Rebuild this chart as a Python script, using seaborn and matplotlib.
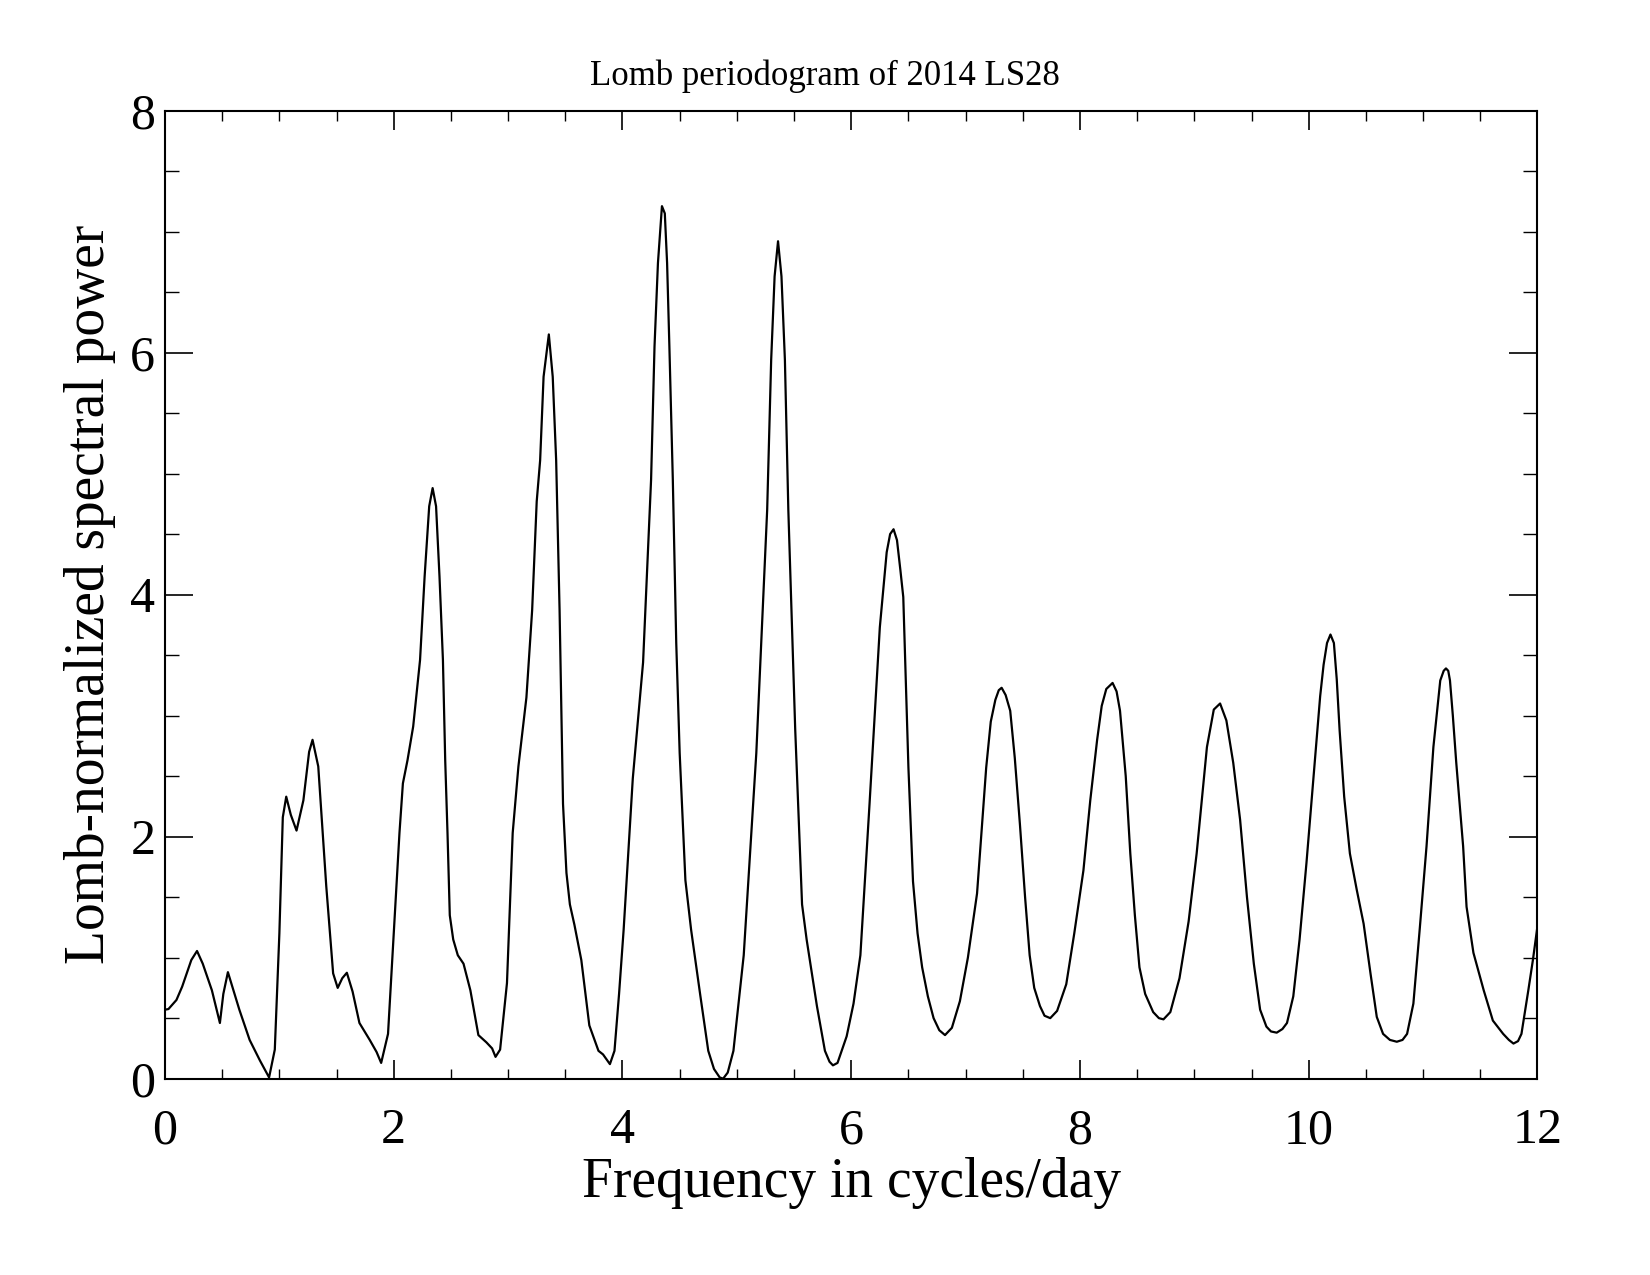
import seaborn as sns
import pandas as pd
import matplotlib.pyplot as plt
from matplotlib.ticker import MultipleLocator

# values
frequency = [
    0.00, 0.03, 0.10, 0.15, 0.19, 0.23, 0.28, 0.33, 0.41, 0.48,
    0.51, 0.55, 0.65, 0.74, 0.83, 0.91, 0.96, 1.00, 1.03, 1.06,
    1.10, 1.15, 1.21, 1.26, 1.29, 1.34, 1.41, 1.47, 1.51, 1.55,
    1.59, 1.64, 1.70, 1.79, 1.85, 1.89, 1.95, 2.00, 2.05, 2.08,
    2.12, 2.17, 2.23, 2.27, 2.31, 2.34, 2.37, 2.40, 2.43, 2.45,
    2.47, 2.49, 2.52, 2.56, 2.61, 2.67, 2.74, 2.81, 2.86, 2.89,
    2.93, 2.99, 3.04, 3.09, 3.16, 3.21, 3.25, 3.28, 3.31, 3.356,
    3.39, 3.42, 3.45, 3.48, 3.51, 3.54, 3.58, 3.64, 3.71, 3.79,
    3.83, 3.89, 3.93, 3.97, 4.01, 4.09, 4.18, 4.25, 4.28, 4.31,
    4.345, 4.37, 4.39, 4.41, 4.44, 4.47, 4.50, 4.55, 4.60, 4.68,
    4.75, 4.80, 4.85, 4.88, 4.92, 4.97, 5.06, 5.17, 5.265, 5.30,
    5.33, 5.36, 5.39, 5.42, 5.45, 5.51, 5.57, 5.61, 5.70, 5.77,
    5.81, 5.84, 5.88, 5.96, 6.02, 6.08, 6.16, 6.25, 6.31, 6.34,
    6.37, 6.40, 6.43, 6.455, 6.50, 6.54, 6.58, 6.62, 6.67, 6.72,
    6.77, 6.82, 6.88, 6.95, 7.02, 7.10, 7.18, 7.22, 7.26, 7.29,
    7.315, 7.35, 7.39, 7.43, 7.475, 7.52, 7.56, 7.60, 7.65, 7.69,
    7.74, 7.80, 7.88, 7.95, 8.03, 8.09, 8.15, 8.19, 8.23, 8.285,
    8.32, 8.35, 8.40, 8.44, 8.48, 8.52, 8.57, 8.64, 8.69, 8.73,
    8.79, 8.87, 8.95, 9.02, 9.07, 9.11, 9.17, 9.225, 9.28, 9.34,
    9.40, 9.46, 9.52, 9.575, 9.63, 9.67, 9.72, 9.77, 9.81, 9.865,
    9.92, 9.98, 10.04, 10.10, 10.13, 10.16, 10.19, 10.22, 10.245, 10.27,
    10.31, 10.36, 10.42, 10.48, 10.54, 10.595, 10.65, 10.71, 10.77, 10.82,
    10.86, 10.915, 10.97, 11.03, 11.09, 11.15, 11.18, 11.20, 11.22, 11.235,
    11.26, 11.29, 11.35, 11.38, 11.44, 11.53, 11.61, 11.70, 11.75, 11.79,
    11.83, 11.86, 11.92, 11.96, 12.00,
]
power = [
    0.57, 0.575, 0.65, 0.76, 0.87, 0.98, 1.055, 0.95, 0.73, 0.46,
    0.70, 0.88, 0.57, 0.32, 0.15, 0.01, 0.24, 1.20, 2.16, 2.33,
    2.18, 2.05, 2.30, 2.70, 2.80, 2.58, 1.59, 0.87, 0.75, 0.83,
    0.875, 0.72, 0.46, 0.32, 0.22, 0.13, 0.37, 1.20, 2.03, 2.44,
    2.63, 2.91, 3.46, 4.15, 4.73, 4.88, 4.73, 4.15, 3.46, 2.63,
    2.03, 1.35, 1.15, 1.02, 0.95, 0.73, 0.36, 0.30, 0.25, 0.18,
    0.24, 0.79, 2.03, 2.58, 3.15, 3.87, 4.77, 5.11, 5.80, 6.15,
    5.80, 5.11, 3.87, 2.27, 1.70, 1.44, 1.27, 0.98, 0.44, 0.23,
    0.20, 0.12, 0.23, 0.70, 1.23, 2.48, 3.44, 4.95, 6.05, 6.74,
    7.21, 7.15, 6.74, 6.05, 4.95, 3.60, 2.69, 1.64, 1.23, 0.69,
    0.23, 0.08, 0.01, 0.00, 0.05, 0.23, 1.02, 2.69, 4.70, 5.94,
    6.63, 6.92, 6.63, 5.94, 4.70, 2.89, 1.44, 1.15, 0.60, 0.23,
    0.14, 0.11, 0.13, 0.35, 0.62, 1.02, 2.27, 3.73, 4.35, 4.50,
    4.54, 4.45, 4.20, 3.98, 2.57, 1.63, 1.20, 0.92, 0.68, 0.50,
    0.40, 0.36, 0.42, 0.64, 1.00, 1.53, 2.57, 2.95, 3.13, 3.21,
    3.23, 3.17, 3.04, 2.65, 2.10, 1.50, 1.02, 0.75, 0.60, 0.52,
    0.50, 0.56, 0.78, 1.20, 1.72, 2.30, 2.80, 3.08, 3.22, 3.27,
    3.20, 3.04, 2.50, 1.86, 1.35, 0.92, 0.70, 0.55, 0.50, 0.49,
    0.55, 0.83, 1.30, 1.86, 2.35, 2.74, 3.05, 3.10, 2.96, 2.61,
    2.14, 1.50, 0.95, 0.57, 0.43, 0.39, 0.38, 0.41, 0.46, 0.68,
    1.15, 1.78, 2.47, 3.16, 3.42, 3.60, 3.67, 3.60, 3.30, 2.88,
    2.33, 1.86, 1.56, 1.28, 0.87, 0.51, 0.37, 0.32, 0.305, 0.32,
    0.37, 0.62, 1.23, 1.92, 2.74, 3.29, 3.37, 3.39, 3.37, 3.29,
    3.00, 2.61, 1.92, 1.42, 1.04, 0.73, 0.48, 0.37, 0.32, 0.29,
    0.31, 0.37, 0.73, 0.98, 1.26,
]

title = "Lomb periodogram of 2014 LS28"
xlabel = "Frequency in cycles/day"
ylabel = "Lomb-normalized spectral power"


def main():
    sns.set_style("ticks")
    plt.rcParams["font.family"] = ["Liberation Serif", "DejaVu Serif"]
    plt.rcParams["text.color"] = "black"
    plt.rcParams["axes.labelcolor"] = "black"
    plt.rcParams["xtick.color"] = "black"
    plt.rcParams["ytick.color"] = "black"

    df = pd.DataFrame({"frequency": frequency, "power": power})

    fig = plt.figure(figsize=(16.5, 12.75), dpi=100)
    ax = fig.add_axes([0.1, 0.154, 0.8318, 0.7593])
    sns.lineplot(data=df, x="frequency", y="power", ax=ax, color="black",
                 linewidth=1.6, sort=False, estimator=None)

    ax.set_xlim(0, 12)
    ax.set_ylim(0, 8)
    ax.xaxis.set_major_locator(MultipleLocator(2))
    ax.xaxis.set_minor_locator(MultipleLocator(0.5))
    ax.yaxis.set_major_locator(MultipleLocator(2))
    ax.yaxis.set_minor_locator(MultipleLocator(0.5))

    for s in ax.spines.values():
        s.set_visible(True)
        s.set_linewidth(1.5)
        s.set_color("black")

    ax.tick_params(axis="x", which="major", direction="in", length=14, width=1.2,
                   top=True, labelsize=36, pad=21)
    ax.tick_params(axis="x", which="minor", direction="in", length=7, width=1.0, top=True)
    ax.tick_params(axis="y", which="major", direction="in", length=20, width=1.2,
                   right=True, labelsize=36, pad=7)
    ax.tick_params(axis="y", which="minor", direction="in", length=10, width=1.0, right=True)

    ylabels = ax.get_yticklabels()
    ylabels[0].set_verticalalignment("bottom")
    ylabels[-1].set_verticalalignment("top")

    ax.set_xlabel(xlabel, fontsize=40, labelpad=2)
    ax.set_ylabel(ylabel, fontsize=40, labelpad=10)
    fig.text(0.5, 0.94, title, ha="center", va="center", fontsize=25)

    plt.savefig("out.png", dpi=100)


if __name__ == "__main__":
    main()
